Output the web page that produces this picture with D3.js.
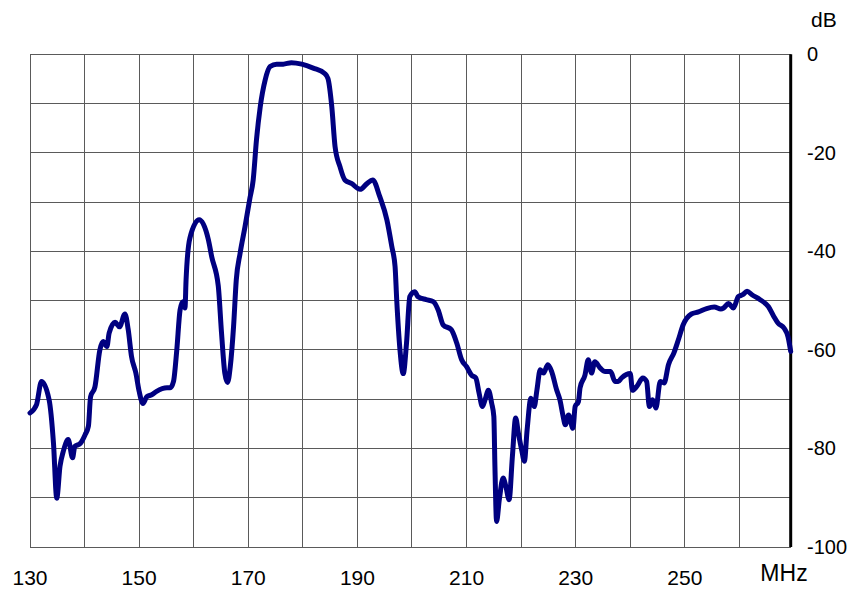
<!DOCTYPE html>
<html>
<head>
<meta charset="utf-8">
<script src="https://cdn.jsdelivr.net/npm/d3@7"></script>
<style>
  html, body { margin: 0; padding: 0; background: #fff; }
  svg { display: block; }
  text { font-family: "Liberation Sans", Arial, sans-serif; fill: #000; }
</style>
</head>
<body>
<svg id="chart" width="862" height="590"></svg>
<script>
// ---- data ----
const freqMHz = [130.0,131.2,132.1,133.5,134.3,134.9,135.5,136.1,137.0,137.8,138.2,139.2,140.1,140.7,141.1,141.9,142.8,143.4,144.1,144.5,145.6,146.4,147.4,148.0,148.6,149.4,150.0,150.7,151.4,152.3,153.2,155.1,155.7,156.3,156.9,157.5,158.0,158.4,158.6,159.3,161.0,162.7,163.3,164.5,165.1,165.7,166.2,166.7,167.3,167.8,168.5,169.4,170.3,170.9,171.5,172.2,173.1,174.0,175.2,176.4,177.9,179.8,181.9,184.0,184.6,185.3,185.9,186.8,187.7,188.9,190.5,191.7,192.8,194.1,195.4,196.3,196.9,197.2,197.8,198.4,199.0,199.6,200.5,201.1,202.6,203.9,204.8,205.7,207.2,208.2,209.1,210.0,210.9,211.7,212.3,212.9,213.4,214.0,214.6,215.0,215.2,215.5,216.0,216.7,217.2,217.8,218.4,219.0,219.5,220.1,220.6,221.1,221.8,222.4,222.9,223.5,224.1,224.9,225.6,226.5,227.1,227.7,228.1,228.7,229.5,229.9,230.5,230.8,231.7,232.3,232.9,233.5,234.5,235.4,236.4,237.2,237.8,238.4,240.0,240.4,241.2,242.3,243.0,243.5,244.1,244.7,245.5,246.2,247.0,248.0,248.8,249.7,251.2,252.5,254.0,255.4,256.6,257.1,258.0,258.9,259.8,260.6,261.4,262.3,263.8,265.3,266.3,267.1,268.2,268.9,269.4];
const levelDB = [-72.8,-71.1,-66.4,-70.1,-78.9,-90.1,-83.6,-80.6,-78.2,-81.9,-79.6,-79.0,-77.2,-75.5,-69.5,-67.5,-60.0,-58.3,-59.3,-56.6,-54.4,-55.3,-52.7,-55.9,-61.3,-64.7,-68.4,-70.9,-69.5,-69.1,-68.4,-67.7,-67.7,-66.4,-60.0,-51.9,-50.2,-51.5,-45.8,-37.3,-33.6,-37.7,-41.1,-47.0,-56.6,-64.7,-66.6,-63.4,-55.3,-45.8,-40.4,-35.0,-29.2,-25.5,-17.4,-10.6,-5.2,-2.5,-2.0,-2.0,-1.7,-2.0,-2.8,-3.9,-4.9,-10.6,-18.7,-22.8,-25.5,-26.2,-27.4,-26.3,-25.5,-28.9,-33.6,-39.0,-43.1,-49.8,-60.0,-64.8,-58.6,-49.2,-48.2,-49.2,-49.8,-50.2,-51.9,-54.9,-55.9,-58.6,-62.0,-63.4,-65.1,-65.7,-68.8,-71.5,-70.1,-68.2,-70.8,-73.5,-83.7,-94.8,-90.4,-86.0,-87.7,-90.4,-81.6,-73.8,-76.9,-80.3,-82.6,-76.2,-69.8,-71.5,-68.1,-64.0,-64.7,-63.0,-64.4,-68.1,-70.1,-73.5,-75.2,-73.2,-75.9,-71.5,-70.5,-67.7,-65.1,-62.0,-64.7,-62.4,-63.7,-64.4,-64.4,-66.4,-66.4,-65.7,-64.8,-68.2,-67.4,-65.7,-66.4,-71.5,-70.1,-71.8,-66.4,-66.7,-63.0,-60.6,-58.0,-54.9,-52.7,-52.3,-51.6,-51.3,-51.7,-51.5,-50.6,-51.5,-49.2,-48.8,-48.1,-48.8,-49.8,-51.2,-53.2,-54.6,-55.6,-57.3,-60.3];
const xDomain = [130, 269.4];
const yDomain = [-100, 0];
const xGridValues = [130,140,150,160,170,180,190,200,210,220,230,240,250,260];
const xLabelValues = [130,150,170,190,210,230,250];
const yGridValues = [0,-10,-20,-30,-40,-50,-60,-70,-80,-90,-100];
const yLabelValues = [0,-20,-40,-60,-80,-100];
const xUnit = "MHz";
const yUnit = "dB";

// ---- layout ----
const L = 30, R = 790.7, T = 54.3, B = 547;
const svg = d3.select("#chart");
const x = d3.scaleLinear().domain(xDomain).range([L, R]);
const y = d3.scaleLinear().domain(yDomain).range([B, T]);

// grid
const grid = svg.append("g").attr("stroke", "#5a5a5a").attr("stroke-width", 1).attr("shape-rendering", "crispEdges");
grid.selectAll("line.v").data(xGridValues).join("line")
  .attr("x1", d => x(d)).attr("x2", d => x(d)).attr("y1", T).attr("y2", B);
grid.selectAll("line.h").data(yGridValues).join("line")
  .attr("x1", L).attr("x2", R).attr("y1", d => y(d)).attr("y2", d => y(d));

// right axis (thick black)
svg.append("line").attr("x1", R).attr("x2", R).attr("y1", T).attr("y2", B)
  .attr("stroke", "#000").attr("stroke-width", 3);

// curve
const pts = freqMHz.map((f, i) => [f, levelDB[i]]);
svg.append("path").datum(pts)
  .attr("fill", "none").attr("stroke", "#000080").attr("stroke-width", 5)
  .attr("stroke-linejoin", "round").attr("stroke-linecap", "round")
  .attr("d", d3.line().x(d => x(d[0])).y(d => y(d[1])).curve(d3.curveMonotoneX));

// x labels
svg.append("g").selectAll("text").data(xLabelValues).join("text")
  .attr("x", d => x(d)).attr("y", 585)
  .attr("text-anchor", "middle").attr("font-size", 21)
  .text(d => d);
svg.append("text").attr("x", 784).attr("y", 581)
  .attr("text-anchor", "middle").attr("font-size", 23).text(xUnit);

// y labels
svg.append("g").selectAll("text").data(yLabelValues).join("text")
  .attr("x", 807).attr("y", d => y(d) + 7)
  .attr("font-size", 20)
  .text(d => d);
svg.append("text").attr("x", 811).attr("y", 27).attr("font-size", 21).text(yUnit);
</script>
</body>
</html>
